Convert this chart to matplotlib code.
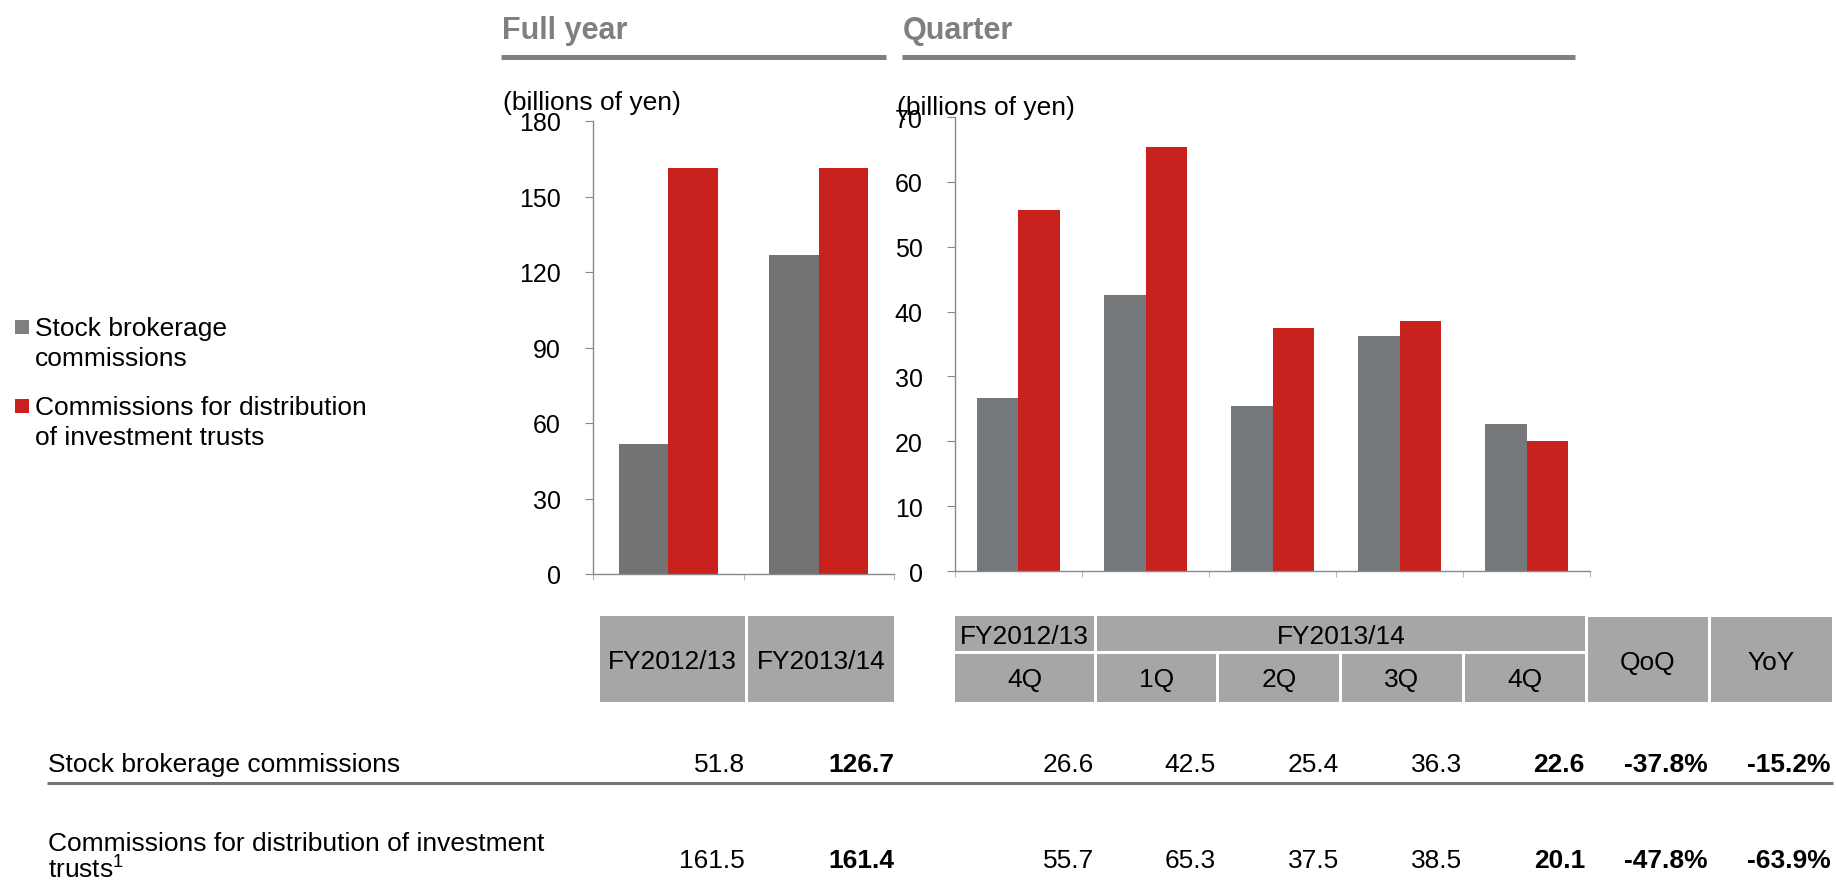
import matplotlib
matplotlib.use('Agg')
import matplotlib.pyplot as plt
from matplotlib.patches import Rectangle

plt.rcParams['font.family'] = ['Liberation Sans', 'DejaVu Sans']
plt.rcParams['mathtext.fontset'] = 'custom'
plt.rcParams['mathtext.rm'] = 'Liberation Sans'

# ---------------------------------------------------------------------------
# data (billions of yen)
years = ['FY2012/13', 'FY2013/14']
fy_stock = [51.8, 126.7]
fy_trust = [161.5, 161.4]

quarters = ['4Q', '1Q', '2Q', '3Q', '4Q']
q_stock = [26.6, 42.5, 25.4, 36.3, 22.6]
q_trust = [55.7, 65.3, 37.5, 38.5, 20.1]

qoq = ['-37.8%', '-47.8%']
yoy = ['-15.2%', '-63.9%']

row_labels = ['Stock brokerage commissions',
              'Commissions for distribution of investment\n'
              r'trusts$^{\mathregular{1}}$']
legend_labels = [['Stock brokerage', 'commissions'],
                 ['Commissions for distribution', 'of investment trusts']]

GREY = '#737373'
GREY_Q = '#75787B'
RED = '#C9211E'
CELL = '#A6A6A6'
AXC = '#898989'

W, H = 1836, 887
fig = plt.figure(figsize=(W / 100, H / 100), dpi=100)

# background layer in pixel coordinates for headers, legend and table
bg = fig.add_axes([0, 0, 1, 1])
bg.set_xlim(0, W)
bg.set_ylim(H, 0)
bg.axis('off')


def px(x0, x1, y0, y1):
    return [x0 / W, 1 - y1 / H, (x1 - x0) / W, (y1 - y0) / H]


# section headers
bg.text(502, 39, 'Full year', fontsize=22, fontweight='bold', color='#7F7F7F', va='baseline')
bg.text(903, 39, 'Quarter', fontsize=22, fontweight='bold', color='#7F7F7F', va='baseline')
bg.plot([501, 886], [57.5, 57.5], lw=3.6, color='#7F7F7F', solid_capstyle='butt')
bg.plot([902, 1575], [57.5, 57.5], lw=3.6, color='#7F7F7F', solid_capstyle='butt')

bg.text(503, 110, '(billions of yen)', fontsize=19, va='baseline')
bg.text(897, 115, '(billions of yen)', fontsize=19, va='baseline')

# legend
for i, (col, lines) in enumerate(zip(['#7F7F7F', RED], legend_labels)):
    top = 321 + i * 79
    bg.add_patch(Rectangle((15, top), 14, 14, color=col, lw=0))
    for j, s in enumerate(lines):
        bg.text(35, top + 15 + j * 30, s, fontsize=19, va='baseline')


def bar_panel(rect, stock, trust, ymax, step, gcol):
    ax = fig.add_axes(rect)
    ax.set_facecolor('none')
    x = range(len(stock))
    w = 0.33
    ax.bar([i - w / 2 for i in x], stock, w, color=gcol, lw=0)
    ax.bar([i + w / 2 for i in x], trust, w, color=RED, lw=0)
    ax.set_xlim(-0.5, len(stock) - 0.5)
    ax.set_ylim(0, ymax)
    ax.set_yticks(range(0, ymax + 1, step))
    ax.set_xticks([i - 0.5 for i in range(len(stock) + 1)])
    ax.set_xticklabels([])
    for s in ['top', 'right']:
        ax.spines[s].set_visible(False)
    for s in ['left', 'bottom']:
        ax.spines[s].set_color(AXC)
        ax.spines[s].set_linewidth(1)
    ax.tick_params(axis='y', length=5.8, width=0.8, color=AXC, pad=17.5, labelsize=18)
    ax.tick_params(axis='x', length=4.3, width=0.8, color='#BBBBBB')
    return ax


bar_panel(px(593, 894, 122, 575), fy_stock, fy_trust, 180, 30, GREY)
bar_panel(px(955, 1590, 118, 572), q_stock, q_trust, 70, 10, GREY_Q)

# table header cells
left_cols = [(600, 745), (748, 894)]
for (x0, x1), s in zip(left_cols, years):
    bg.add_patch(Rectangle((x0, 617), x1 - x0, 86, color=CELL, lw=0))
    bg.text((x0 + x1) / 2, 669, s, fontsize=19, ha='center', va='baseline')

q_cols = [(955, 1094), (1097, 1216), (1219, 1339), (1342, 1462), (1465, 1585)]
bg.add_patch(Rectangle((955, 617), 139, 35, color=CELL, lw=0))
bg.text(1024.5, 644, years[0], fontsize=19, ha='center', va='baseline')
bg.add_patch(Rectangle((1097, 617), 488, 35, color=CELL, lw=0))
bg.text(1341, 644, years[1], fontsize=19, ha='center', va='baseline')
for (x0, x1), s in zip(q_cols, quarters):
    bg.add_patch(Rectangle((x0, 655), x1 - x0, 48, color=CELL, lw=0))
    bg.text((x0 + x1) / 2, 687, s, fontsize=19, ha='center', va='baseline')

chg_cols = [(1588, 1708), (1711, 1832)]
for (x0, x1), s in zip(chg_cols, ['QoQ', 'YoY']):
    bg.add_patch(Rectangle((x0, 618), x1 - x0, 85, color=CELL, lw=0))
    bg.text((x0 + x1) / 2, 670, s, fontsize=19, ha='center', va='baseline')

# table rows
bg.text(48, 772, row_labels[0], fontsize=19, va='baseline')
bg.text(48, 878, row_labels[1], fontsize=19, va='baseline', linespacing=0.95)
bg.plot([47, 1833], [784, 784], lw=2.2, color='#707478', solid_capstyle='butt')

right_edges = [c[1] for c in left_cols] + [c[1] for c in q_cols]
for base, fy, q, c1, c2 in [(772, fy_stock, q_stock, qoq[0], yoy[0]),
                             (868, fy_trust, q_trust, qoq[1], yoy[1])]:
    vals = fy + q
    for k, (xr, v) in enumerate(zip(right_edges, vals)):
        bold = k == len(fy) - 1 or k == len(vals) - 1
        bg.text(xr, base, f'{v:.1f}', fontsize=19, ha='right', va='baseline',
                fontweight='bold' if bold else 'normal')
    bg.text(chg_cols[0][1], base, c1, fontsize=19, ha='right', va='baseline', fontweight='bold')
    bg.text(chg_cols[1][1] - 1, base, c2, fontsize=19, ha='right', va='baseline', fontweight='bold')

fig.savefig('out.png', dpi=100)
